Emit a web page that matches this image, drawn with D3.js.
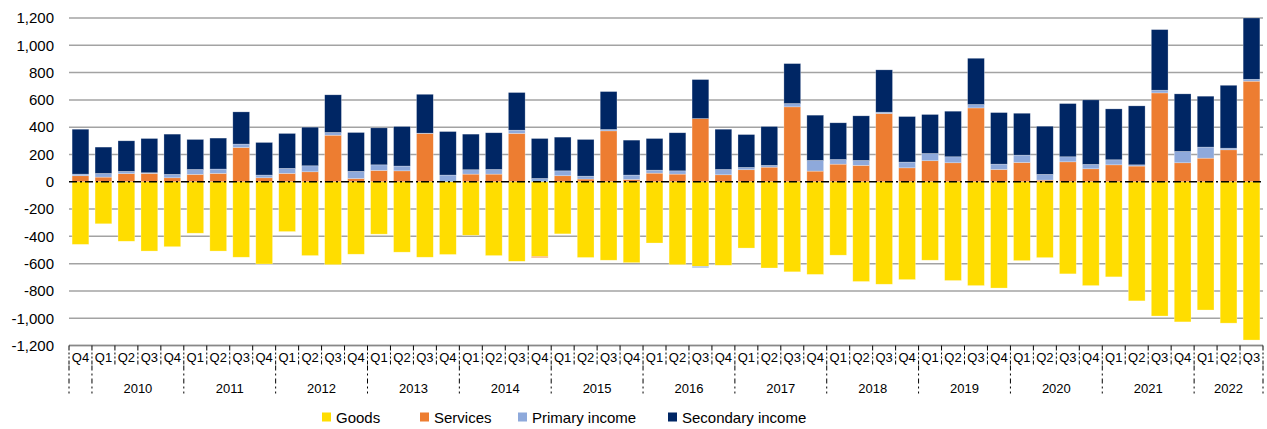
<!DOCTYPE html>
<html>
<head>
<meta charset="utf-8">
<script src="https://cdn.jsdelivr.net/npm/d3@7"></script>
<style>
  body { margin: 0; background: #fff; }
  svg text { font-family: "Liberation Sans", Arial, sans-serif; fill: #000; }
</style>
</head>
<body>
<svg id="chart" width="1267" height="429"></svg>
<script>
const categories = [
  "2009Q4",
  "2010Q1","2010Q2","2010Q3","2010Q4",
  "2011Q1","2011Q2","2011Q3","2011Q4",
  "2012Q1","2012Q2","2012Q3","2012Q4",
  "2013Q1","2013Q2","2013Q3","2013Q4",
  "2014Q1","2014Q2","2014Q3","2014Q4",
  "2015Q1","2015Q2","2015Q3","2015Q4",
  "2016Q1","2016Q2","2016Q3","2016Q4",
  "2017Q1","2017Q2","2017Q3","2017Q4",
  "2018Q1","2018Q2","2018Q3","2018Q4",
  "2019Q1","2019Q2","2019Q3","2019Q4",
  "2020Q1","2020Q2","2020Q3","2020Q4",
  "2021Q1","2021Q2","2021Q3","2021Q4",
  "2022Q1","2022Q2","2022Q3"
];
const quarterLabels = categories.map(c => c.slice(4));
const yearLabels = ["", "2010", "2011", "2012", "2013", "2014", "2015", "2016", "2017", "2018", "2019", "2020", "2021", "2022"];
const yearSpans  = [1, 4, 4, 4, 4, 4, 4, 4, 4, 4, 4, 4, 4, 3];

const goods = [-459,-308,-436,-508,-476,-377,-508,-553,-603,-365,-541,-608,
  -531,-384,-516,-553,-533,-392,-541,-583,-548,-382,-555,-575,-593,
  -449,-608,-620,-612,-486,-632,-660,-679,-538,-731,-751,-717,-575,-724,
  -761,-779,-578,-556,-675,-761,-697,-873,-984,-1027,-940,-1036,-1160];
const services = [44,34,59,61,29,54,61,251,29,61,73,341,
  24,83,80,354,0,56,56,354,-8,44,20,373,17,
  63,56,463,51,88,107,549,78,129,120,500,102,154,139,
  541,90,141,12,146,95,124,115,651,139,173,234,737];
const primaryIncome = [12,27,17,5,25,36,32,25,20,37,44,20,
  52,41,35,2,49,32,34,24,24,36,21,10,32,
  22,24,-10,39,17,13,24,78,34,36,10,42,53,44,
  25,39,54,42,37,32,37,9,20,83,81,12,14];
const secondaryIncome = [329,193,224,251,295,220,227,236,239,256,283,276,
  285,271,290,285,319,261,269,276,293,247,269,278,256,
  232,279,286,295,241,285,293,332,269,327,310,334,286,334,
  339,378,307,353,390,473,373,432,444,422,373,461,449];

const seriesNames = ["Goods", "Services", "Primary income", "Secondary income"];
const seriesColors = ["#FFDD00", "#ED7D31", "#8EA9DB", "#002664"];
const yTicks = [-1200,-1000,-800,-600,-400,-200,0,200,400,600,800,1000,1200];

const svg = d3.select("#chart");
const margin = {left: 69, right: 4, top: 18, bottom: 84};
const W = 1267, H = 429;
const plotRight = W - margin.right;
const plotBottom = H - margin.bottom + 0.5;

const data = categories.map((c, i) => ({
  cat: c,
  "Goods": goods[i],
  "Services": services[i],
  "Primary income": primaryIncome[i],
  "Secondary income": secondaryIncome[i]
}));

const x = d3.scaleBand()
  .domain(categories)
  .range([margin.left, plotRight])
  .paddingInner(0.27)
  .paddingOuter(0.135);

const y = d3.scaleLinear()
  .domain([-1200, 1200])
  .range([plotBottom, margin.top]);

const locale = d3.formatLocale({decimal: ".", thousands: ",", grouping: [3], currency: ["", ""], minus: "-"});
const fmt = locale.format(",");

// grid lines
svg.append("g")
  .selectAll("line")
  .data(yTicks.filter(d => d !== 0))
  .enter().append("line")
    .attr("x1", margin.left)
    .attr("x2", plotRight)
    .attr("y1", d => y(d))
    .attr("y2", d => y(d))
    .attr("stroke", "#a3a3a3")
    .attr("stroke-width", 1.5);

// y axis labels
const yAxis = d3.axisLeft(y)
  .tickValues(yTicks)
  .tickFormat(fmt)
  .tickSize(0)
  .tickPadding(15);
const yAxisG = svg.append("g")
  .attr("transform", `translate(${margin.left},0)`)
  .call(yAxis);
yAxisG.select(".domain").remove();
yAxisG.selectAll("text")
  .style("font-family", "'Liberation Sans', Arial, sans-serif")
  .style("font-size", "15px")
  .attr("fill", "#000");

// stacked bars
const stack = d3.stack()
  .keys(seriesNames)
  .offset(d3.stackOffsetDiverging);
const stacked = stack(data);

svg.append("g")
  .selectAll("g")
  .data(stacked)
  .enter().append("g")
    .attr("fill", (d, i) => seriesColors[i])
  .selectAll("rect")
  .data(d => d)
  .enter().append("rect")
    .attr("x", d => x(d.data.cat))
    .attr("width", x.bandwidth())
    .attr("y", d => y(Math.max(d[0], d[1])))
    .attr("height", d => Math.abs(y(d[0]) - y(d[1])))
    .attr("stroke", "rgba(255,255,255,0.45)")
    .attr("stroke-width", 0.6);

// zero line
svg.append("line")
  .attr("x1", margin.left)
  .attr("x2", plotRight)
  .attr("y1", y(0))
  .attr("y2", y(0))
  .attr("stroke", "#000")
  .attr("stroke-width", 1.5)
  .attr("stroke-dasharray", "8,3,2,3");

// x axis line and quarter dividers
svg.append("line")
  .attr("x1", margin.left)
  .attr("x2", plotRight)
  .attr("y1", plotBottom)
  .attr("y2", plotBottom)
  .attr("stroke", "#888")
  .attr("stroke-width", 1.5);

const step = x.step();
const bounds = d3.range(categories.length + 1).map(i => margin.left + i * step);

svg.append("g")
  .selectAll("line")
  .data(bounds)
  .enter().append("line")
    .attr("x1", d => d).attr("x2", d => d)
    .attr("y1", plotBottom).attr("y2", plotBottom + 19)
    .attr("stroke", "#000")
    .attr("stroke-width", 1)
    .attr("stroke-dasharray", "5,2,2,2,2,2");

svg.append("g")
  .selectAll("text")
  .data(quarterLabels)
  .enter().append("text")
    .attr("x", (d, i) => x(categories[i]) + x.bandwidth() / 2)
    .attr("y", plotBottom + 16)
    .attr("text-anchor", "middle")
    .style("font-size", "13px")
    .text(d => d);

// year groups
const yearStarts = yearSpans.map((s, i) => d3.sum(yearSpans.slice(0, i)));
const yearBounds = yearStarts.concat([categories.length]);

svg.append("g")
  .selectAll("line")
  .data(yearBounds)
  .enter().append("line")
    .attr("x1", d => margin.left + d * step)
    .attr("x2", d => margin.left + d * step)
    .attr("y1", plotBottom + 20).attr("y2", plotBottom + 48)
    .attr("stroke", "#000")
    .attr("stroke-width", 1)
    .attr("stroke-dasharray", "5,3,2,3");

svg.append("g")
  .selectAll("text")
  .data(yearLabels)
  .enter().append("text")
    .attr("x", (d, i) => margin.left + (yearStarts[i] + yearSpans[i] / 2) * step)
    .attr("y", plotBottom + 47)
    .attr("text-anchor", "middle")
    .style("font-size", "13px")
    .text(d => d);

// legend
const legendX = [322, 420, 518, 668];
const legend = svg.append("g")
  .selectAll("g")
  .data(seriesNames)
  .enter().append("g")
    .attr("transform", (d, i) => `translate(${legendX[i]},417)`);
legend.append("rect")
  .attr("x", 0).attr("y", -4.5)
  .attr("width", 9).attr("height", 9)
  .attr("fill", (d, i) => seriesColors[i]);
legend.append("text")
  .attr("x", 14)
  .attr("y", 5.5)
  .style("font-size", "15px")
  .text(d => d);
</script>
</body>
</html>
